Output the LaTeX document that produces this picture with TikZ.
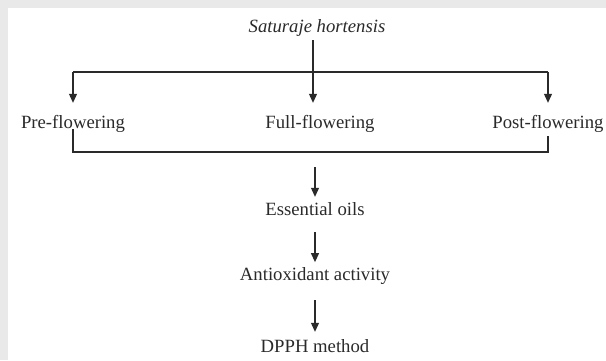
\documentclass[tikz,border=0pt]{standalone}
\usepackage{fontspec}
\setmainfont{Liberation Serif}
\usetikzlibrary{arrows.meta,calc}
\definecolor{bgray}{HTML}{E9E9E9}
\definecolor{ink}{HTML}{2A2A2A}
\begin{document}
\begin{tikzpicture}[x=1pt,y=-1pt,
  lbl/.style={inner sep=0pt,text height=12.4pt,text depth=0pt,anchor=base,text=ink,
    font=\fontsize{18.7}{22}\selectfont},
  conn/.style={draw=ink,line width=1.1pt},
  arr/.style={conn,-{Triangle[width=8pt,length=9pt]}}]
\useasboundingbox (0,0) rectangle (606,360);
\fill[bgray] (0,0) rectangle (606,360);
\fill[white] (7.5,8) rectangle (606,360);
% nodes
\node[lbl] (sat) at (317,32) {\itshape Saturaje hortensis};
\node[lbl] (pre) at (73,128) {Pre-flowering};
\node[lbl] (full) at (320,128) {Full-flowering};
\node[lbl] (post) at (548,128) {Post-flowering};
\node[lbl] (ess) at (315,215) {Essential oils};
\node[lbl] (anti) at (315,280.7) {Antioxidant activity};
\node[lbl] (dpph) at (315,352) {DPPH method};
% junction coordinates
\coordinate (tl) at (73,72);
\coordinate (tr) at (548,72);
\coordinate (bl) at (73,152);
\coordinate (br) at (548,152);
\coordinate (bm) at (315,152);
\coordinate (sx) at (313,0);
% top split
\draw[conn] (tl) -- (tr);
\draw[arr,shorten <=8pt,shorten >=12.6pt] (sat.south -| sx) -- (full.north -| sx);
\draw[arr,shorten >=12.6pt] (tl) -- (pre.north);
\draw[arr,shorten >=12.6pt] (tr) -- (post.north);
% bottom bracket
\draw[conn] ([yshift=-1pt]pre.south) -- (bl) -- (br) -- ([yshift=-8pt]post.south);
% chain
\draw[arr,shorten <=15pt,shorten >=5.6pt] (bm) -- (ess.north);
\draw[arr,shorten <=17pt,shorten >=6pt] (ess.south) -- (anti.north);
\draw[arr,shorten <=19.3pt,shorten >=7.6pt] (anti.south) -- (dpph.north);
\end{tikzpicture}
\end{document}
